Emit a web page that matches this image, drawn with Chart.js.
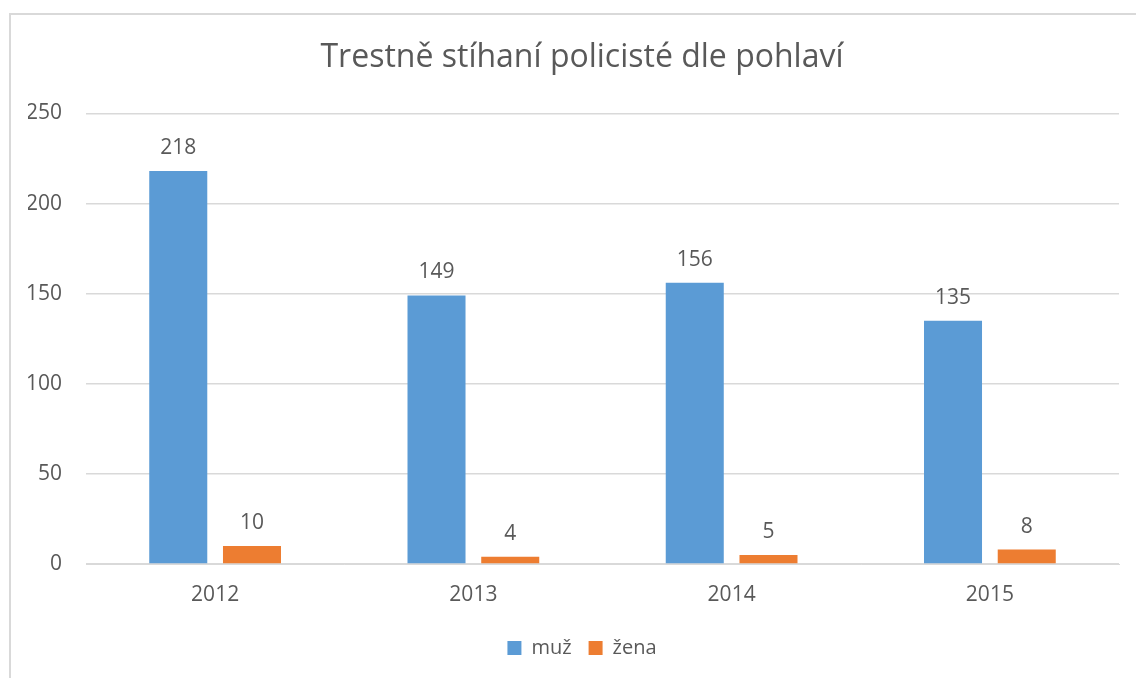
<!DOCTYPE html>
<html>
<head>
<meta charset="utf-8">
<script src="https://cdn.jsdelivr.net/npm/chart.js@4.4.1/dist/chart.umd.min.js"></script>
<style>
html,body{margin:0;padding:0;background:#fff;}
#wrap{width:1136px;height:678px;position:relative;}
</style>
</head>
<body>
<div id="wrap"><canvas id="c" width="1136" height="678"></canvas></div>
<script>
const categories = ['2012', '2013', '2014', '2015'];
const muzValues = [218, 149, 156, 135];
const zenaValues = [10, 4, 5, 8];
const seriesNames = ['muž', 'žena'];
const yTicks = [0, 50, 100, 150, 200, 250];
const titleText = 'Trestně stíhaní policisté dle pohlaví';

const FONT = '"Open Sans", sans-serif';
const TEXT = '#595959';

const borderPlugin = {
  id: 'frame',
  beforeDraw(chart) {
    const ctx = chart.ctx;
    ctx.save();
    ctx.fillStyle = '#fff';
    ctx.fillRect(0, 0, chart.width, chart.height);
    ctx.strokeStyle = '#d9d9d9';
    ctx.lineWidth = 2;
    ctx.beginPath();
    ctx.moveTo(10, chart.height);
    ctx.lineTo(10, 14);
    ctx.lineTo(chart.width, 14);
    ctx.stroke();
    ctx.restore();
  }
};

const labelPlugin = {
  id: 'valueLabels',
  afterDatasetsDraw(chart) {
    const ctx = chart.ctx;
    ctx.save();
    ctx.font = '21px ' + FONT;
    ctx.fillStyle = TEXT;
    ctx.textAlign = 'center';
    ctx.textBaseline = 'alphabetic';
    chart.data.datasets.forEach((ds, i) => {
      const meta = chart.getDatasetMeta(i);
      meta.data.forEach((el, j) => {
        ctx.fillText(String(ds.data[j]), el.x, el.y - 17);
      });
    });
    ctx.restore();
  }
};

new Chart(document.getElementById('c'), {
  type: 'bar',
  data: {
    labels: categories,
    datasets: [
      { label: seriesNames[0], data: muzValues, backgroundColor: '#5B9BD5', categoryPercentage: 0.571, barPercentage: 0.787 },
      { label: seriesNames[1], data: zenaValues, backgroundColor: '#ED7D31', categoryPercentage: 0.571, barPercentage: 0.787 }
    ]
  },
  options: {
    responsive: false,
    devicePixelRatio: 1,
    animation: false,
    layout: { padding: { top: 14, left: 28, right: 0, bottom: 10 } },
    plugins: {
      title: {
        display: true,
        text: titleText,
        color: TEXT,
        font: { family: FONT, size: 32, weight: 'normal' },
        padding: { top: 25, bottom: 36 }
      },
      legend: {
        position: 'bottom',
        labels: {
          color: TEXT,
          font: { family: FONT, size: 20 },
          boxWidth: 14,
          boxHeight: 14,
          padding: 17
        }
      },
      tooltip: { enabled: false }
    },
    scales: {
      x: {
        grid: { display: false, drawTicks: false },
        border: { display: true, color: '#d9d9d9' },
        ticks: { color: TEXT, font: { family: FONT, size: 21 }, padding: 18 },
        afterFit(s) { s.height = 57; }
      },
      y: {
        min: 0,
        max: 250,
        afterBuildTicks(s) { s.ticks = yTicks.map(v => ({ value: v })); },
        grid: { color: '#d9d9d9', drawTicks: false, lineWidth: 1.5 },
        border: { display: false },
        ticks: { color: TEXT, font: { family: FONT, size: 21 }, padding: 24 },
        afterFit(s) { s.width = 58; }
      },
      y2: {
        position: 'right',
        display: true,
        min: 0,
        max: 250,
        grid: { display: false, drawTicks: false },
        border: { display: false },
        ticks: { display: false },
        afterFit(s) { s.width = 17; }
      }
    }
  },
  plugins: [borderPlugin, labelPlugin]
});
</script>
</body>
</html>
